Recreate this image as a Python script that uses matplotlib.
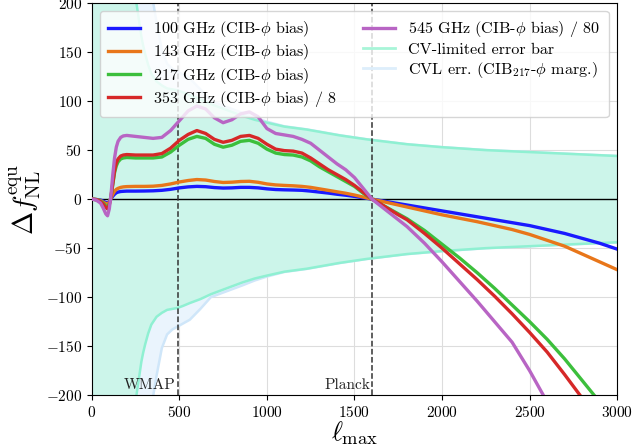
import matplotlib
matplotlib.use('Agg')
import matplotlib.pyplot as plt

plt.rcParams['font.family'] = 'serif'
plt.rcParams['font.serif'] = ['cmr10', 'DejaVu Serif']
plt.rcParams['mathtext.fontset'] = 'cm'
plt.rcParams['axes.formatter.use_mathtext'] = True

# l_max sampling of the bias curves
ell = [2, 25, 50, 65, 80, 90, 100, 110, 120, 130, 140, 150, 165, 180, 200, 250,
       300, 350, 400, 450, 500, 550, 600, 650, 700, 750, 800, 850, 900, 950,
       1000, 1050, 1100, 1150, 1200, 1250, 1300, 1350, 1400, 1450, 1500, 1550,
       1600, 1650, 1700, 1750, 1800, 1900, 2000, 2100, 2200, 2300, 2400, 2500,
       2600, 2700, 2800, 2900, 3000]

b100 = [0, -0.3, -1, -2, -3.5, -4, -2.5, 0.5, 3, 5, 6.5, 7.2, 7.8, 8, 8.2, 8.2,
        8.3, 8.5, 9, 10, 11.5, 12.5, 13, 12.7, 11.8, 11.3, 11.5, 12, 12, 11.5,
        10.5, 9.8, 9.5, 9.3, 9, 8.2, 7.2, 6.2, 5, 4, 2.8, 1.4,
        0, -1.5, -3, -4.5, -6, -9, -12, -15, -18, -21, -24, -27,
        -31, -35, -40, -45, -51]
b143 = [0, -0.4, -1.5, -3, -4.5, -5, -3, 1, 5, 8, 10, 11, 12, 12.5, 12.8, 13,
        13, 13.2, 14, 15.5, 17.5, 19, 20, 19.5, 18, 17, 17.3, 18, 18.2, 17.2,
        15.5, 14.5, 14, 13.6, 13, 12, 10.5, 9, 7.5, 6, 4.2, 2.1,
        0, -2, -4, -6, -8, -12, -16, -19.5, -23, -27, -31, -36,
        -42, -48, -56, -64, -72]
b217 = [0, -0.5, -2, -4, -7, -8, -5, 3, 15, 27, 34, 38, 41, 42, 42.5, 42,
        42, 42, 43, 48, 55, 61, 64, 62, 56, 53, 55, 59, 60, 57,
        51, 47, 45.5, 45, 43, 39, 33, 28, 23, 18, 13, 6,
        0, -5, -10, -15, -20, -32, -46, -60, -75, -91, -108, -125,
        -143, -163, -185, -207, -230]
b353 = [0, -0.5, -2.5, -5, -8.5, -10, -6, 3, 16, 29, 37, 41, 44, 45, 45.5, 45,
        45, 45, 46.5, 52, 60, 66, 70, 67, 61, 58, 60, 64, 65, 62,
        56, 51, 49.5, 49, 47, 42, 36, 30, 25, 20, 14, 7,
        0, -5, -10.5, -16, -21, -35, -50, -66, -82, -99, -117, -136,
        -156, -179, -203, -228, -255]
b545 = [0, -1, -4, -9, -15, -17, -10, 5, 25, 42, 53, 59, 63, 64.5, 65, 64,
        63, 62, 63, 70, 80, 90, 95, 92, 83, 78, 81, 87, 89, 84,
        72, 67, 65.5, 64, 61, 57, 50, 43, 36, 30, 22, 11,
        0, -7, -14, -21, -28, -45, -64, -84, -104, -125, -146, -175,
        -207, -238, -270, -305, -340]

# error bars
ell_err = [2, 100, 180, 220, 240, 255, 265, 274, 283, 293, 305, 322, 340, 370,
           400, 430, 460, 490, 520, 560, 620, 680, 740, 800, 860, 930, 1000,
           1100, 1227, 1417, 1570, 1800, 2000, 2250, 2500, 2750, 3000]
sig_cv = [1500, 700, 380, 260, 225, 200, 188, 177, 166, 157, 148, 137, 128, 120,
          116, 113, 112, 111, 109, 106, 102, 97, 93, 89, 85, 81, 78,
          74, 71, 65, 61, 56, 53, 50, 48, 46, 44]
sig_marg = [2500, 1200, 600, 420, 370, 330, 310, 295, 280, 265, 250, 230, 212, 180,
            152, 138, 133, 130, 127, 123, 112, 100, 96, 92, 88, 83, 79,
            74.3, 71.2, 65.2, 61.1, 56.1, 53.1, 50.1, 48.1, 46.1, 44.1]

fig = plt.figure(figsize=(6.33, 4.46), dpi=100)
ax = fig.add_axes([0.145, 0.114, 0.83, 0.879])

# error bands
neg_marg = [-s for s in sig_marg]
neg_cv = [-s for s in sig_cv]
ax.fill_between(ell_err, neg_marg, sig_marg, color='#eaf4fd', lw=0, zorder=1)
ax.plot(ell_err, sig_marg, color='#cfe6f9', lw=1.8, zorder=1.1)
ax.plot(ell_err, neg_marg, color='#cfe6f9', lw=1.8, zorder=1.1)
ax.fill_between(ell_err, neg_cv, sig_cv, color='#ccf5ea', lw=0, zorder=1.2)
ax.plot(ell_err, sig_cv, color='#8ff0d2', lw=1.8, zorder=1.3)
ax.plot(ell_err, neg_cv, color='#8ff0d2', lw=1.8, zorder=1.3)

ax.axhline(0, color='k', lw=1, zorder=2)

lw = 2.4
l1, = ax.plot(ell, b100, color='#1a1aff', lw=lw, zorder=3)
l2, = ax.plot(ell, b143, color='#e8761a', lw=lw, zorder=3)
l3, = ax.plot(ell, b217, color='#3cbf3c', lw=lw, zorder=3)
l4, = ax.plot(ell, b353, color='#d62828', lw=lw, zorder=3)
l5, = ax.plot(ell, b545, color='#b865c4', lw=lw, zorder=3)
l6, = ax.plot([], [], color='#a8f5d8', lw=2)
l7, = ax.plot([], [], color='#ddeefb', lw=2)

# experiments
ax.axvline(490, color='#333333', ls='--', lw=1.1, zorder=2.5)
ax.axvline(1600, color='#333333', ls='--', lw=1.1, zorder=2.5)
ax.text(480, -197, 'WMAP', ha='right', va='bottom', fontsize=11, color='#222222')
ax.text(1590, -197, 'Planck', ha='right', va='bottom', fontsize=11, color='#222222')

ax.legend([l1, l2, l3, l4, l5, l6, l7],
          [r'100 GHz (CIB-$\phi$ bias)', r'143 GHz (CIB-$\phi$ bias)',
           r'217 GHz (CIB-$\phi$ bias)', r'353 GHz (CIB-$\phi$ bias) / 8',
           r'545 GHz (CIB-$\phi$ bias) / 80', 'CV-limited error bar',
           r'CVL err. (CIB$_{217}$-$\phi$ marg.)'],
          ncol=2, loc='upper left', fontsize=11.6, framealpha=0.8,
          columnspacing=1.6, handlelength=2.0, labelspacing=0.2,
          borderpad=0.5)

ax.set_xlim(0, 3000)
ax.set_ylim(-200, 200)
ax.set_xticks([0, 500, 1000, 1500, 2000, 2500, 3000])
ax.set_yticks([-200, -150, -100, -50, 0, 50, 100, 150, 200])
ax.tick_params(labelsize=11)
ax.grid(True, color='#dddddd', lw=0.8)
ax.set_axisbelow(True)
ax.set_xlabel(r'$\ell_{\rm max}$', fontsize=19, labelpad=0)
ax.set_ylabel(r'$\Delta f_{\rm NL}^{\rm equ}$', fontsize=20, labelpad=2)

fig.savefig('out.png', dpi=100)
